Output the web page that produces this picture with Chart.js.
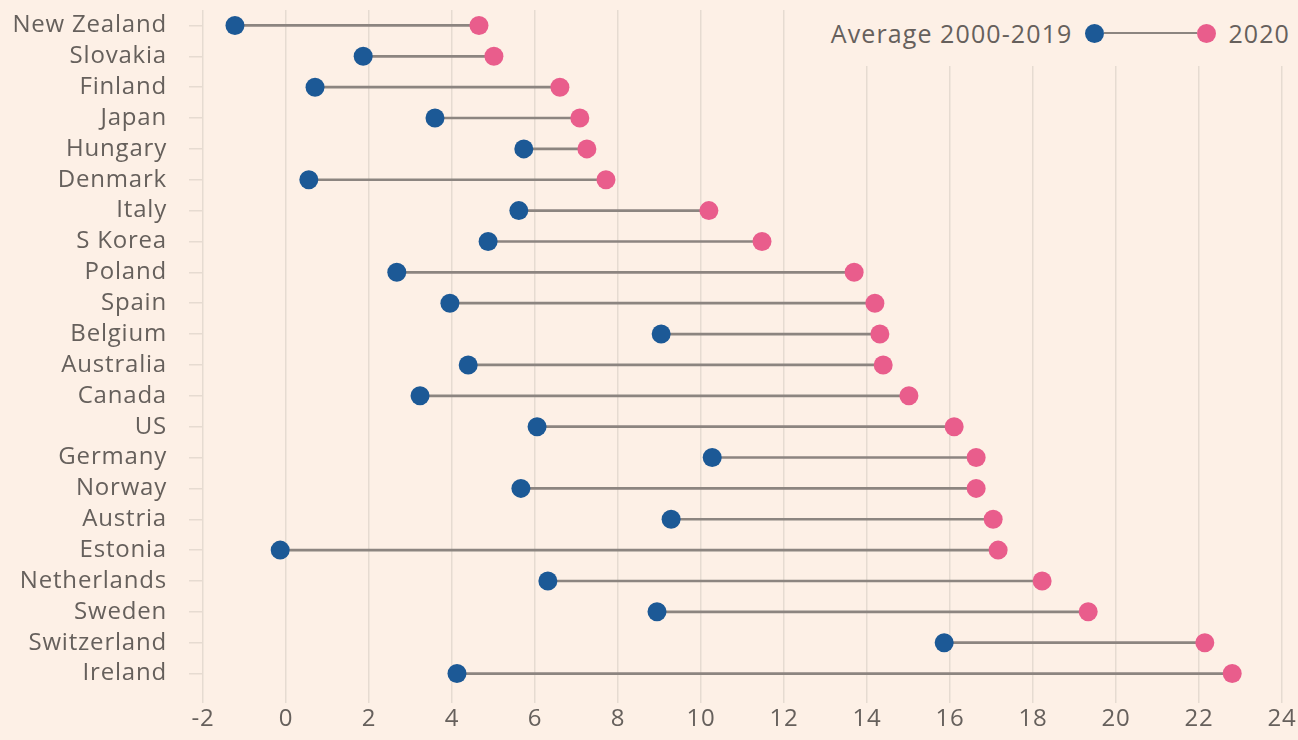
<!DOCTYPE html>
<html>
<head>
<meta charset="utf-8">
<script src="https://cdn.jsdelivr.net/npm/chart.js@4"></script>
<style>
  html, body { margin: 0; padding: 0; background: #fdf0e6; }
  #wrap { position: relative; width: 1298px; height: 740px; }
  canvas { display: block; }
  #legend {
    position: absolute; top: 0; right: 0; height: 66px; padding: 0 8px 0 11px;
    background: #fdf0e6; display: flex; align-items: center;
    font-family: "Open Sans", sans-serif; font-size: 25px; color: #66605c;
  }
  #legend .txt { letter-spacing: 1.1px; }
  #legend .dot { width: 19px; height: 19px; border-radius: 50%; display: inline-block; }
  #legend .bar { width: 93px; height: 2px; background: #8c8580; display: inline-block; }
</style>
</head>
<body>
<div id="wrap">
  <canvas id="chart" width="1298" height="740"></canvas>
  <div id="legend">
    <span class="txt" style="margin-right:13px">Average 2000-2019</span>
    <span class="dot" style="background:#1c5996"></span>
    <span class="bar"></span>
    <span class="dot" style="background:#e95d8c"></span>
    <span class="txt" style="margin-left:12px">2020</span>
  </div>
</div>
<script>
const countries = ['New Zealand', 'Slovakia', 'Finland', 'Japan', 'Hungary', 'Denmark', 'Italy',
  'S Korea', 'Poland', 'Spain', 'Belgium', 'Australia', 'Canada', 'US', 'Germany', 'Norway',
  'Austria', 'Estonia', 'Netherlands', 'Sweden', 'Switzerland', 'Ireland'];
const avg2000_2019 = [-1.23, 1.86, 0.70, 3.59, 5.73, 0.55, 5.61, 4.87, 2.67, 3.95, 9.04, 4.39,
  3.23, 6.05, 10.27, 5.66, 9.28, -0.14, 6.31, 8.94, 15.86, 4.12];
const value2020 = [4.65, 5.01, 6.60, 7.08, 7.25, 7.71, 10.19, 11.47, 13.69, 14.19, 14.31, 14.39,
  15.01, 16.10, 16.63, 16.63, 17.04, 17.16, 18.22, 19.33, 22.14, 22.80];
const xTicks = [-2, 0, 2, 4, 6, 8, 10, 12, 14, 16, 18, 20, 22, 24];

const textColor = '#66605c';
const gridColor = '#e6dbd1';

Chart.defaults.font.family = '"Open Sans", sans-serif';
Chart.defaults.color = textColor;

// slightly wider lettering, closer to the original typeface
const spacing = {
  id: 'spacing',
  beforeUpdate: chart => { chart.ctx.letterSpacing = '0.8px'; },
  beforeDraw: chart => { chart.ctx.letterSpacing = '0.8px'; }
};

new Chart(document.getElementById('chart'), {
  type: 'bar',
  plugins: [spacing],
  data: {
    labels: countries,
    datasets: [
      {
        // connector between the two dots
        type: 'bar',
        data: countries.map((c, i) => [avg2000_2019[i], value2020[i]]),
        backgroundColor: '#8c8580',
        barThickness: 2,
        indexAxis: 'y',
        order: 3
      },
      {
        type: 'line',
        label: 'Average 2000-2019',
        data: avg2000_2019,
        indexAxis: 'y',
        showLine: false,
        pointRadius: 9.5,
        pointHoverRadius: 9.5,
        pointBackgroundColor: '#1c5996',
        pointBorderWidth: 0,
        order: 1
      },
      {
        type: 'line',
        label: '2020',
        data: value2020,
        indexAxis: 'y',
        showLine: false,
        pointRadius: 9.5,
        pointHoverRadius: 9.5,
        pointBackgroundColor: '#e95d8c',
        pointBorderWidth: 0,
        order: 2
      }
    ]
  },
  options: {
    indexAxis: 'y',
    responsive: false,
    animation: false,
    layout: { autoPadding: false, padding: { top: 10, right: 16, left: 0, bottom: 0 } },
    plugins: {
      legend: { display: false },
      tooltip: { enabled: false }
    },
    scales: {
      x: {
        type: 'linear',
        min: -2,
        max: 24,
        afterBuildTicks: axis => { axis.ticks = xTicks.map(v => ({ value: v })); },
        afterFit: axis => { axis.height = 51; axis.paddingLeft = 0; axis.paddingRight = 0; },
        grid: { color: gridColor, lineWidth: 1.5, tickLength: 14, drawTicks: true },
        border: { display: false },
        ticks: { font: { size: 24 }, color: textColor, padding: 2 }
      },
      y: {
        type: 'category',
        offset: true,
        afterFit: axis => { axis.width = 203; axis.paddingTop = 0; axis.paddingBottom = 0; },
        grid: { drawOnChartArea: false, color: gridColor, lineWidth: 1.5, tickLength: 14, offset: false },
        border: { display: false },
        ticks: { font: { size: 24 }, color: textColor, padding: 22, autoSkip: false }
      }
    }
  }
});
</script>
</body>
</html>
